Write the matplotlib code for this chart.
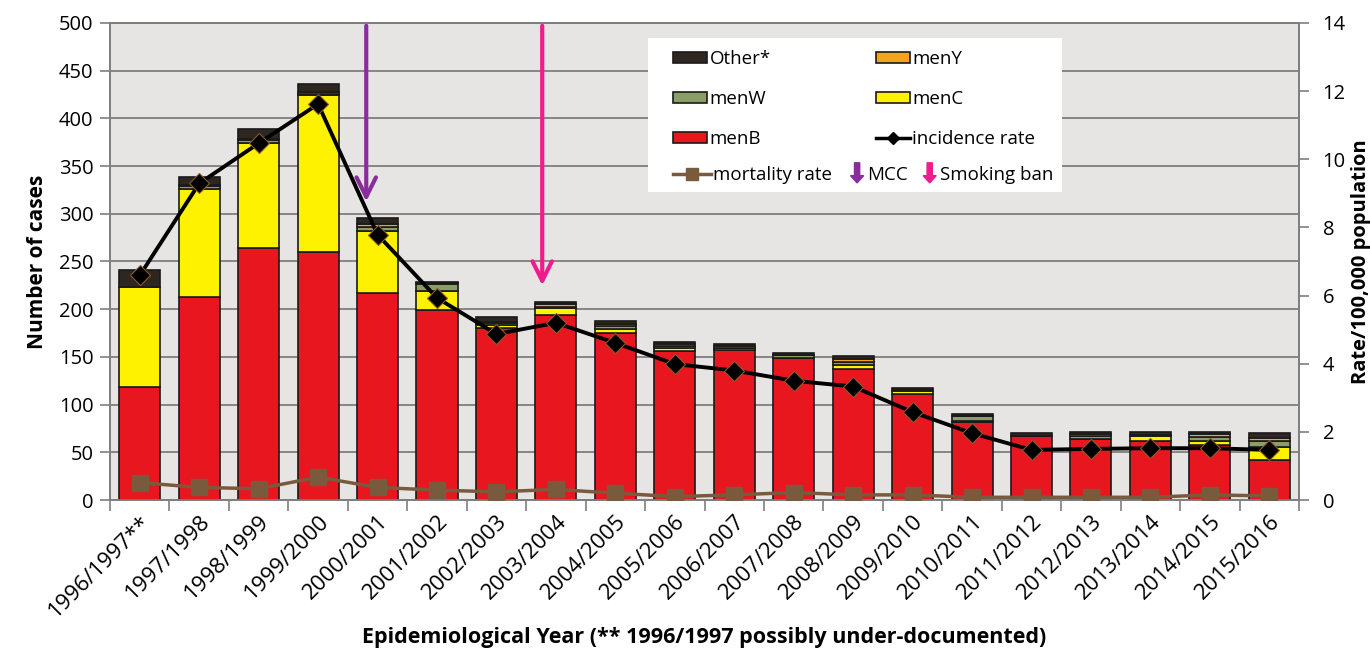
import matplotlib
matplotlib.use("Agg")
import matplotlib.pyplot as plt
import matplotlib.patches as mpatches
from matplotlib.lines import Line2D
from matplotlib.legend_handler import HandlerPatch
import numpy as np

plt.rcParams['font.family'] = ['Open Sans', 'DejaVu Sans']

years = ['1996/1997**', '1997/1998', '1998/1999', '1999/2000', '2000/2001',
         '2001/2002', '2002/2003', '2003/2004', '2004/2005', '2005/2006',
         '2006/2007', '2007/2008', '2008/2009', '2009/2010', '2010/2011',
         '2011/2012', '2012/2013', '2013/2014', '2014/2015', '2015/2016']

menB = [118, 213, 264, 260, 217, 199, 180, 194, 175, 156,
        157, 149, 137, 111, 82, 67, 64, 62, 58, 42]
menC = [105, 113, 110, 164, 65, 20, 3, 7, 4, 3,
        2, 0, 4, 3, 1, 0, 0, 5, 4, 14]
menW = [0, 3, 3, 2, 4, 7, 3, 1, 3, 2,
        0, 3, 4, 1, 5, 0, 3, 1, 4, 6]
menY = [0, 1, 1, 2, 3, 1, 1, 3, 2, 2,
        2, 0, 3, 0, 0, 0, 2, 0, 3, 3]
other = [18, 9, 11, 8, 7, 2, 5, 3, 4, 3,
         3, 2, 3, 2, 2, 3, 2, 3, 2, 5]

incidence = [6.59, 9.29, 10.47, 11.62, 7.79, 5.93, 4.87, 5.20, 4.61, 3.99,
             3.80, 3.50, 3.33, 2.58, 1.96, 1.47, 1.50, 1.52, 1.52, 1.47]
mortality = [0.51, 0.37, 0.33, 0.67, 0.37, 0.29, 0.24, 0.31, 0.20, 0.10,
             0.15, 0.22, 0.15, 0.15, 0.08, 0.08, 0.08, 0.08, 0.15, 0.12]

# arrows: (category position, arrow tip in number of cases)
mcc_pos, mcc_tip = 3.81, 310
ban_pos, ban_tip = 6.77, 222

c_b = '#E8171F'
c_c = '#FFF200'
c_w = '#8A9F68'
c_y = '#F5A21C'
c_o = '#2E2620'
c_mort = '#7A5A3C'
c_mcc = '#8A2D9C'
c_ban = '#EE1C8C'
c_ax = '#7f7f7f'

fig = plt.figure(figsize=(13.7, 6.53), dpi=100)
ax = fig.add_axes([0.0803, 0.2343, 0.8679, 0.7305])
ax.set_facecolor('#E7E5E4')

x = np.arange(len(years))
w = 0.69
bottom = np.zeros(len(years))
for vals, col in [(menB, c_b), (menC, c_c), (menW, c_w), (menY, c_y), (other, c_o)]:
    ax.bar(x, vals, w, bottom=bottom, color=col, edgecolor='#1a1a1a', linewidth=1.2, zorder=3)
    bottom += np.array(vals)

ax.set_ylim(0, 500)
ax.set_yticks(np.arange(0, 501, 50))
ax.set_xlim(-0.5, len(years) - 0.5)
ax.grid(axis='y', color=c_ax, linewidth=1.3, zorder=0)
ax.set_axisbelow(True)
ax.set_xticks(x)
ax.set_xticklabels(years, rotation=45, ha='right', rotation_mode='anchor', fontsize=16)
ax.tick_params(axis='x', length=0, pad=8)
ax.set_xticks(np.arange(-0.5, len(years), 1.0), minor=True)
ax.tick_params(axis='x', which='minor', length=8, color=c_ax, width=1.2)
ax.tick_params(axis='y', labelsize=14.5, color=c_ax, length=7, width=1.2, pad=5)
for s in ax.spines.values():
    s.set_color(c_ax)
    s.set_linewidth(1.3)
ax.set_ylabel('Number of cases', fontsize=15, fontweight='bold', labelpad=8)
ax.set_xlabel('Epidemiological Year (** 1996/1997 possibly under-documented)',
              fontsize=15.5, fontweight='bold', labelpad=4)

ax2 = ax.twinx()
ax2.set_ylim(0, 14)
ax2.set_yticks(np.arange(0, 15, 2))
ax2.tick_params(axis='y', labelsize=14.5, color=c_ax, length=7, width=1.2, pad=10)
for s in ax2.spines.values():
    s.set_color(c_ax)
    s.set_linewidth(1.3)
ax2.set_ylabel('Rate/100,000 population', fontsize=14.5, fontweight='bold', labelpad=4)

ax2.plot(x, mortality, color=c_mort, linewidth=2.5, marker='s', markersize=11.5,
         markerfacecolor=c_mort, markeredgecolor=c_mort, zorder=4)
ax2.plot(x, incidence, color='black', linewidth=2.8, marker='D', markersize=10,
         markerfacecolor='black', markeredgecolor='#8a5a2a', markeredgewidth=0.8, zorder=5)

# intervention arrows
ax.annotate('', xy=(mcc_pos, mcc_tip), xytext=(mcc_pos, 500),
            arrowprops=dict(arrowstyle='->', color=c_mcc, lw=3, mutation_scale=35), zorder=6)
ax.annotate('', xy=(ban_pos, ban_tip), xytext=(ban_pos, 500),
            arrowprops=dict(arrowstyle='->', color=c_ban, lw=3, mutation_scale=35), zorder=6)

# legend box
ax2.add_patch(mpatches.Rectangle((0.4525, 0.6457), 0.348, 0.3229, transform=ax2.transAxes,
                                 facecolor='white', edgecolor='none', zorder=6))


def make_arrow(legend, orig_handle, xdescent, ydescent, width, height, fontsize):
    return mpatches.FancyArrow(width / 2 - xdescent, height + 3 - ydescent, 0, -height - 5,
                               width=height * 0.4, head_width=height * 1.0,
                               head_length=height * 0.55, length_includes_head=True)


box = lambda c: mpatches.Patch(facecolor=c, edgecolor='#1a1a1a', linewidth=1.2)
h1 = [box(c_o), box(c_w), box(c_b), box(c_y), box(c_c),
      Line2D([], [], color='black', lw=2.5, marker='D', markersize=6)]
l1 = ['Other*', 'menW', 'menB', 'menY', 'menC', 'incidence rate']
kw = dict(frameon=False, fontsize=13.5, borderpad=0, borderaxespad=0, handletextpad=0.15)
leg1 = ax2.legend(h1, l1, ncol=2, loc='upper left', bbox_to_anchor=(0.4735, 0.943),
                  handlelength=1.8, handleheight=0.55, labelspacing=1.17,
                  columnspacing=5.6, **kw)
leg1.set_zorder(7)
ax2.add_artist(leg1)

h2 = [Line2D([], [], color=c_mort, lw=2.5, marker='s', markersize=9)]
leg2 = ax2.legend(h2, ['mortality rate'], loc='upper left', bbox_to_anchor=(0.4735, 0.70),
                  handlelength=2.0, **kw)
leg2.set_zorder(7)
ax2.add_artist(leg2)

h3 = [mpatches.FancyArrow(0, 0, 0, -1, color=c_mcc), mpatches.FancyArrow(0, 0, 0, -1, color=c_ban)]
leg3 = ax2.legend(h3, ['MCC', 'Smoking ban'], ncol=2, loc='upper left',
                  bbox_to_anchor=(0.622, 0.70), handlelength=0.8, columnspacing=0.75,
                  handler_map={mpatches.FancyArrow: HandlerPatch(patch_func=make_arrow)}, **kw)
leg3.set_zorder(7)
leg3.legend_handles[0].set_color(c_mcc)
leg3.legend_handles[1].set_color(c_ban)

fig.savefig('out.png', dpi=100)
